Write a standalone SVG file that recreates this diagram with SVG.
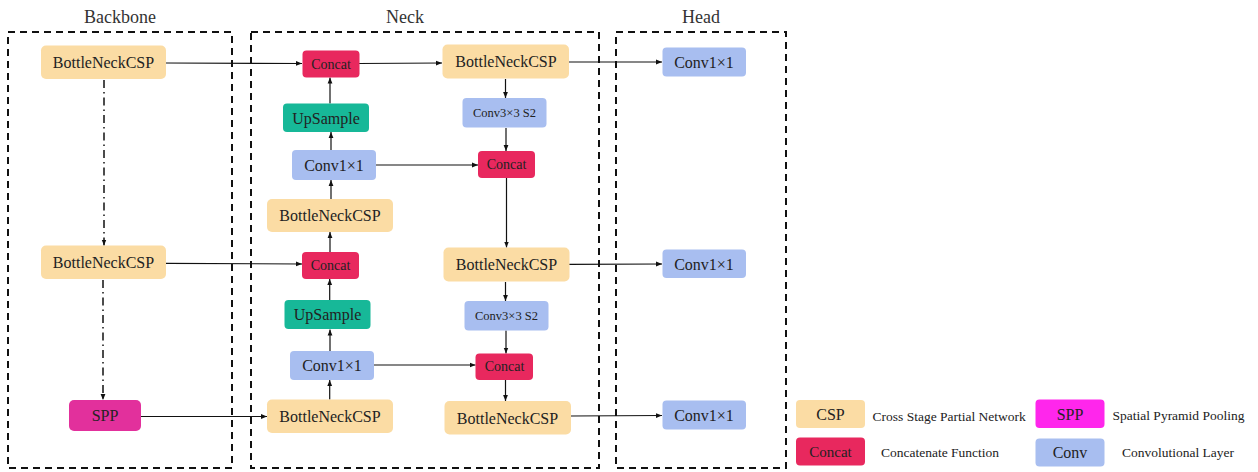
<svg xmlns="http://www.w3.org/2000/svg" width="1258" height="472" viewBox="0 0 1258 472">
<defs>
<marker id="ah" viewBox="0 0 10 10" refX="10" refY="5" markerWidth="6" markerHeight="6" markerUnits="userSpaceOnUse" orient="auto">
<path d="M0,1 L10,5 L0,9 z" fill="#111"/>
</marker>
<style>
.box{fill:none;stroke:#111;stroke-width:2;stroke-dasharray:7,5}
.title{font-family:"Liberation Serif","Times New Roman",serif;font-size:18px;fill:#333;text-anchor:middle}
.lbl{font-family:"Liberation Serif","Times New Roman",serif;font-size:16px;fill:#222;text-anchor:middle;dominant-baseline:central}
.sm{font-size:14px}
.xs{font-size:12.5px}
.leg{font-family:"Liberation Serif","Times New Roman",serif;font-size:13.5px;fill:#222;dominant-baseline:central}
.csp{fill:#FBDCA4}
.cat{fill:#E8285E}
.up{fill:#17B898}
.conv{fill:#A8BEF0}
.spp{fill:#E2309C}
.sppl{fill:#FF26EC}
.c{stroke:#111;stroke-width:1.2;fill:none;marker-end:url(#ah)}
.dd{stroke:#111;stroke-width:1.5;fill:none;stroke-dasharray:8,4,1.5,4;marker-end:url(#ah)}
</style>
</defs>
<rect width="1258" height="472" fill="#fff"/>

<g id="frames">
<rect class="box" x="8" y="32" width="224" height="436"/>
<rect class="box" x="251" y="32" width="348" height="436"/>
<rect class="box" x="616" y="32" width="170" height="436"/>
<text class="title" x="120" y="23">Backbone</text>
<text class="title" x="405" y="23">Neck</text>
<text class="title" x="701" y="23">Head</text>
</g>

<g id="connectors">
<line class="c" x1="166" y1="63" x2="302" y2="63.5"/>
<line class="c" x1="359" y1="63.5" x2="442" y2="63"/>
<line class="c" x1="569" y1="62" x2="662" y2="62"/>
<line class="c" x1="330" y1="103.5" x2="330" y2="77.5"/>
<line class="c" x1="331" y1="150" x2="331" y2="132"/>
<line class="c" x1="331" y1="199" x2="331" y2="180"/>
<line class="c" x1="330" y1="252" x2="330" y2="232"/>
<line class="c" x1="375.5" y1="165" x2="478" y2="165"/>
<line class="c" x1="505.5" y1="79" x2="505.5" y2="98"/>
<line class="c" x1="506" y1="128" x2="506" y2="151"/>
<line class="c" x1="506.5" y1="178" x2="506.5" y2="247.5"/>
<line class="c" x1="166" y1="263.3" x2="302" y2="264"/>
<line class="c" x1="569" y1="264.3" x2="662" y2="264"/>
<line class="c" x1="505.5" y1="282" x2="505.5" y2="301"/>
<line class="c" x1="506" y1="330.5" x2="506" y2="353.5"/>
<line class="c" x1="505.5" y1="380" x2="505.5" y2="401"/>
<line class="c" x1="329.7" y1="300" x2="329.7" y2="279"/>
<line class="c" x1="330" y1="351" x2="330" y2="329.5"/>
<line class="c" x1="329.7" y1="399.5" x2="329.7" y2="380"/>
<line class="c" x1="373.5" y1="365" x2="475.5" y2="365"/>
<line class="c" x1="141" y1="416.5" x2="267" y2="416.5"/>
<line class="c" x1="571" y1="416" x2="662" y2="415.5"/>
<line class="dd" x1="104" y1="80" x2="104" y2="245.5"/>
<line class="dd" x1="103" y1="280" x2="103" y2="400"/>
</g>

<g id="bb_csp1"><rect class="csp" x="41" y="45.5" width="125" height="33.5" rx="5"/><text class="lbl" x="103.5" y="62.5">BottleNeckCSP</text></g>
<g id="bb_csp2"><rect class="csp" x="41" y="245.5" width="125" height="33.5" rx="5"/><text class="lbl" x="103.5" y="262.5">BottleNeckCSP</text></g>
<g id="bb_spp"><rect class="spp" x="69" y="400" width="72" height="31" rx="5"/><text class="lbl" x="105" y="415.5">SPP</text></g>

<g id="nk_concat1"><rect class="cat" x="302.5" y="50.5" width="57" height="27" rx="4"/><text class="lbl sm" x="331" y="64">Concat</text></g>
<g id="nk_up1"><rect class="up" x="283" y="103.5" width="86" height="28.5" rx="4"/><text class="lbl" x="326" y="118">UpSample</text></g>
<g id="nk_conv1"><rect class="conv" x="292" y="150" width="84" height="30" rx="4"/><text class="lbl" x="334" y="165">Conv1×1</text></g>
<g id="nk_csp1"><rect class="csp" x="267" y="199" width="126" height="33" rx="5"/><text class="lbl" x="330" y="215.5">BottleNeckCSP</text></g>
<g id="nk_concat2"><rect class="cat" x="302" y="252" width="57" height="27" rx="4"/><text class="lbl sm" x="330.5" y="265.5">Concat</text></g>
<g id="nk_up2"><rect class="up" x="284.5" y="300" width="86" height="29" rx="4"/><text class="lbl" x="327.5" y="314.5">UpSample</text></g>
<g id="nk_conv2"><rect class="conv" x="290" y="351" width="84" height="29" rx="4"/><text class="lbl" x="332" y="365.5">Conv1×1</text></g>
<g id="nk_csp2"><rect class="csp" x="267" y="399.5" width="126" height="33.5" rx="5"/><text class="lbl" x="330" y="416">BottleNeckCSP</text></g>

<g id="nk_csp3"><rect class="csp" x="442.5" y="44.5" width="126.5" height="34" rx="5"/><text class="lbl" x="506" y="61.5">BottleNeckCSP</text></g>
<g id="nk_c3s2a"><rect class="conv" x="462.5" y="98" width="84" height="29.5" rx="4"/><text class="lbl xs" x="504.5" y="112.5">Conv3×3 S2</text></g>
<g id="nk_concat3"><rect class="cat" x="478" y="151" width="57" height="27" rx="4"/><text class="lbl sm" x="506.5" y="164.5">Concat</text></g>
<g id="nk_csp4"><rect class="csp" x="443.5" y="247.5" width="126" height="34" rx="5"/><text class="lbl" x="506.5" y="264.5">BottleNeckCSP</text></g>
<g id="nk_c3s2b"><rect class="conv" x="464.5" y="301" width="84" height="29.5" rx="4"/><text class="lbl xs" x="506.5" y="315.5">Conv3×3 S2</text></g>
<g id="nk_concat4"><rect class="cat" x="475.5" y="353.5" width="57.5" height="26.5" rx="4"/><text class="lbl sm" x="504.5" y="366.5">Concat</text></g>
<g id="nk_csp5"><rect class="csp" x="444.5" y="401" width="126.5" height="33.5" rx="5"/><text class="lbl" x="507.5" y="418">BottleNeckCSP</text></g>

<g id="hd_conv1"><rect class="conv" x="662.5" y="47.5" width="83.5" height="29" rx="4"/><text class="lbl" x="704" y="62">Conv1×1</text></g>
<g id="hd_conv2"><rect class="conv" x="662.5" y="249.5" width="83.5" height="28.5" rx="4"/><text class="lbl" x="704" y="264">Conv1×1</text></g>
<g id="hd_conv3"><rect class="conv" x="662.5" y="400.5" width="83.5" height="29" rx="4"/><text class="lbl" x="704" y="415">Conv1×1</text></g>

<g id="legend">
<rect class="csp" x="796" y="400" width="69" height="28" rx="4"/><text class="lbl" x="830.5" y="414">CSP</text>
<text class="leg" x="872.5" y="416.5">Cross Stage Partial Network</text>
<rect class="sppl" x="1035.5" y="399.5" width="69" height="28.5" rx="4"/><text class="lbl" x="1070" y="414">SPP</text>
<text class="leg" x="1112.5" y="415">Spatial Pyramid Pooling</text>
<rect class="cat" x="796" y="437.5" width="69" height="28" rx="4"/><text class="lbl" x="830.5" y="452" style="font-size:15px">Concat</text>
<text class="leg" x="881" y="452.5">Concatenate Function</text>
<rect class="conv" x="1035.5" y="438.5" width="69" height="28" rx="4"/><text class="lbl" x="1070" y="452.5">Conv</text>
<text class="leg" x="1122" y="452.5">Convolutional Layer</text>
</g>
</svg>
